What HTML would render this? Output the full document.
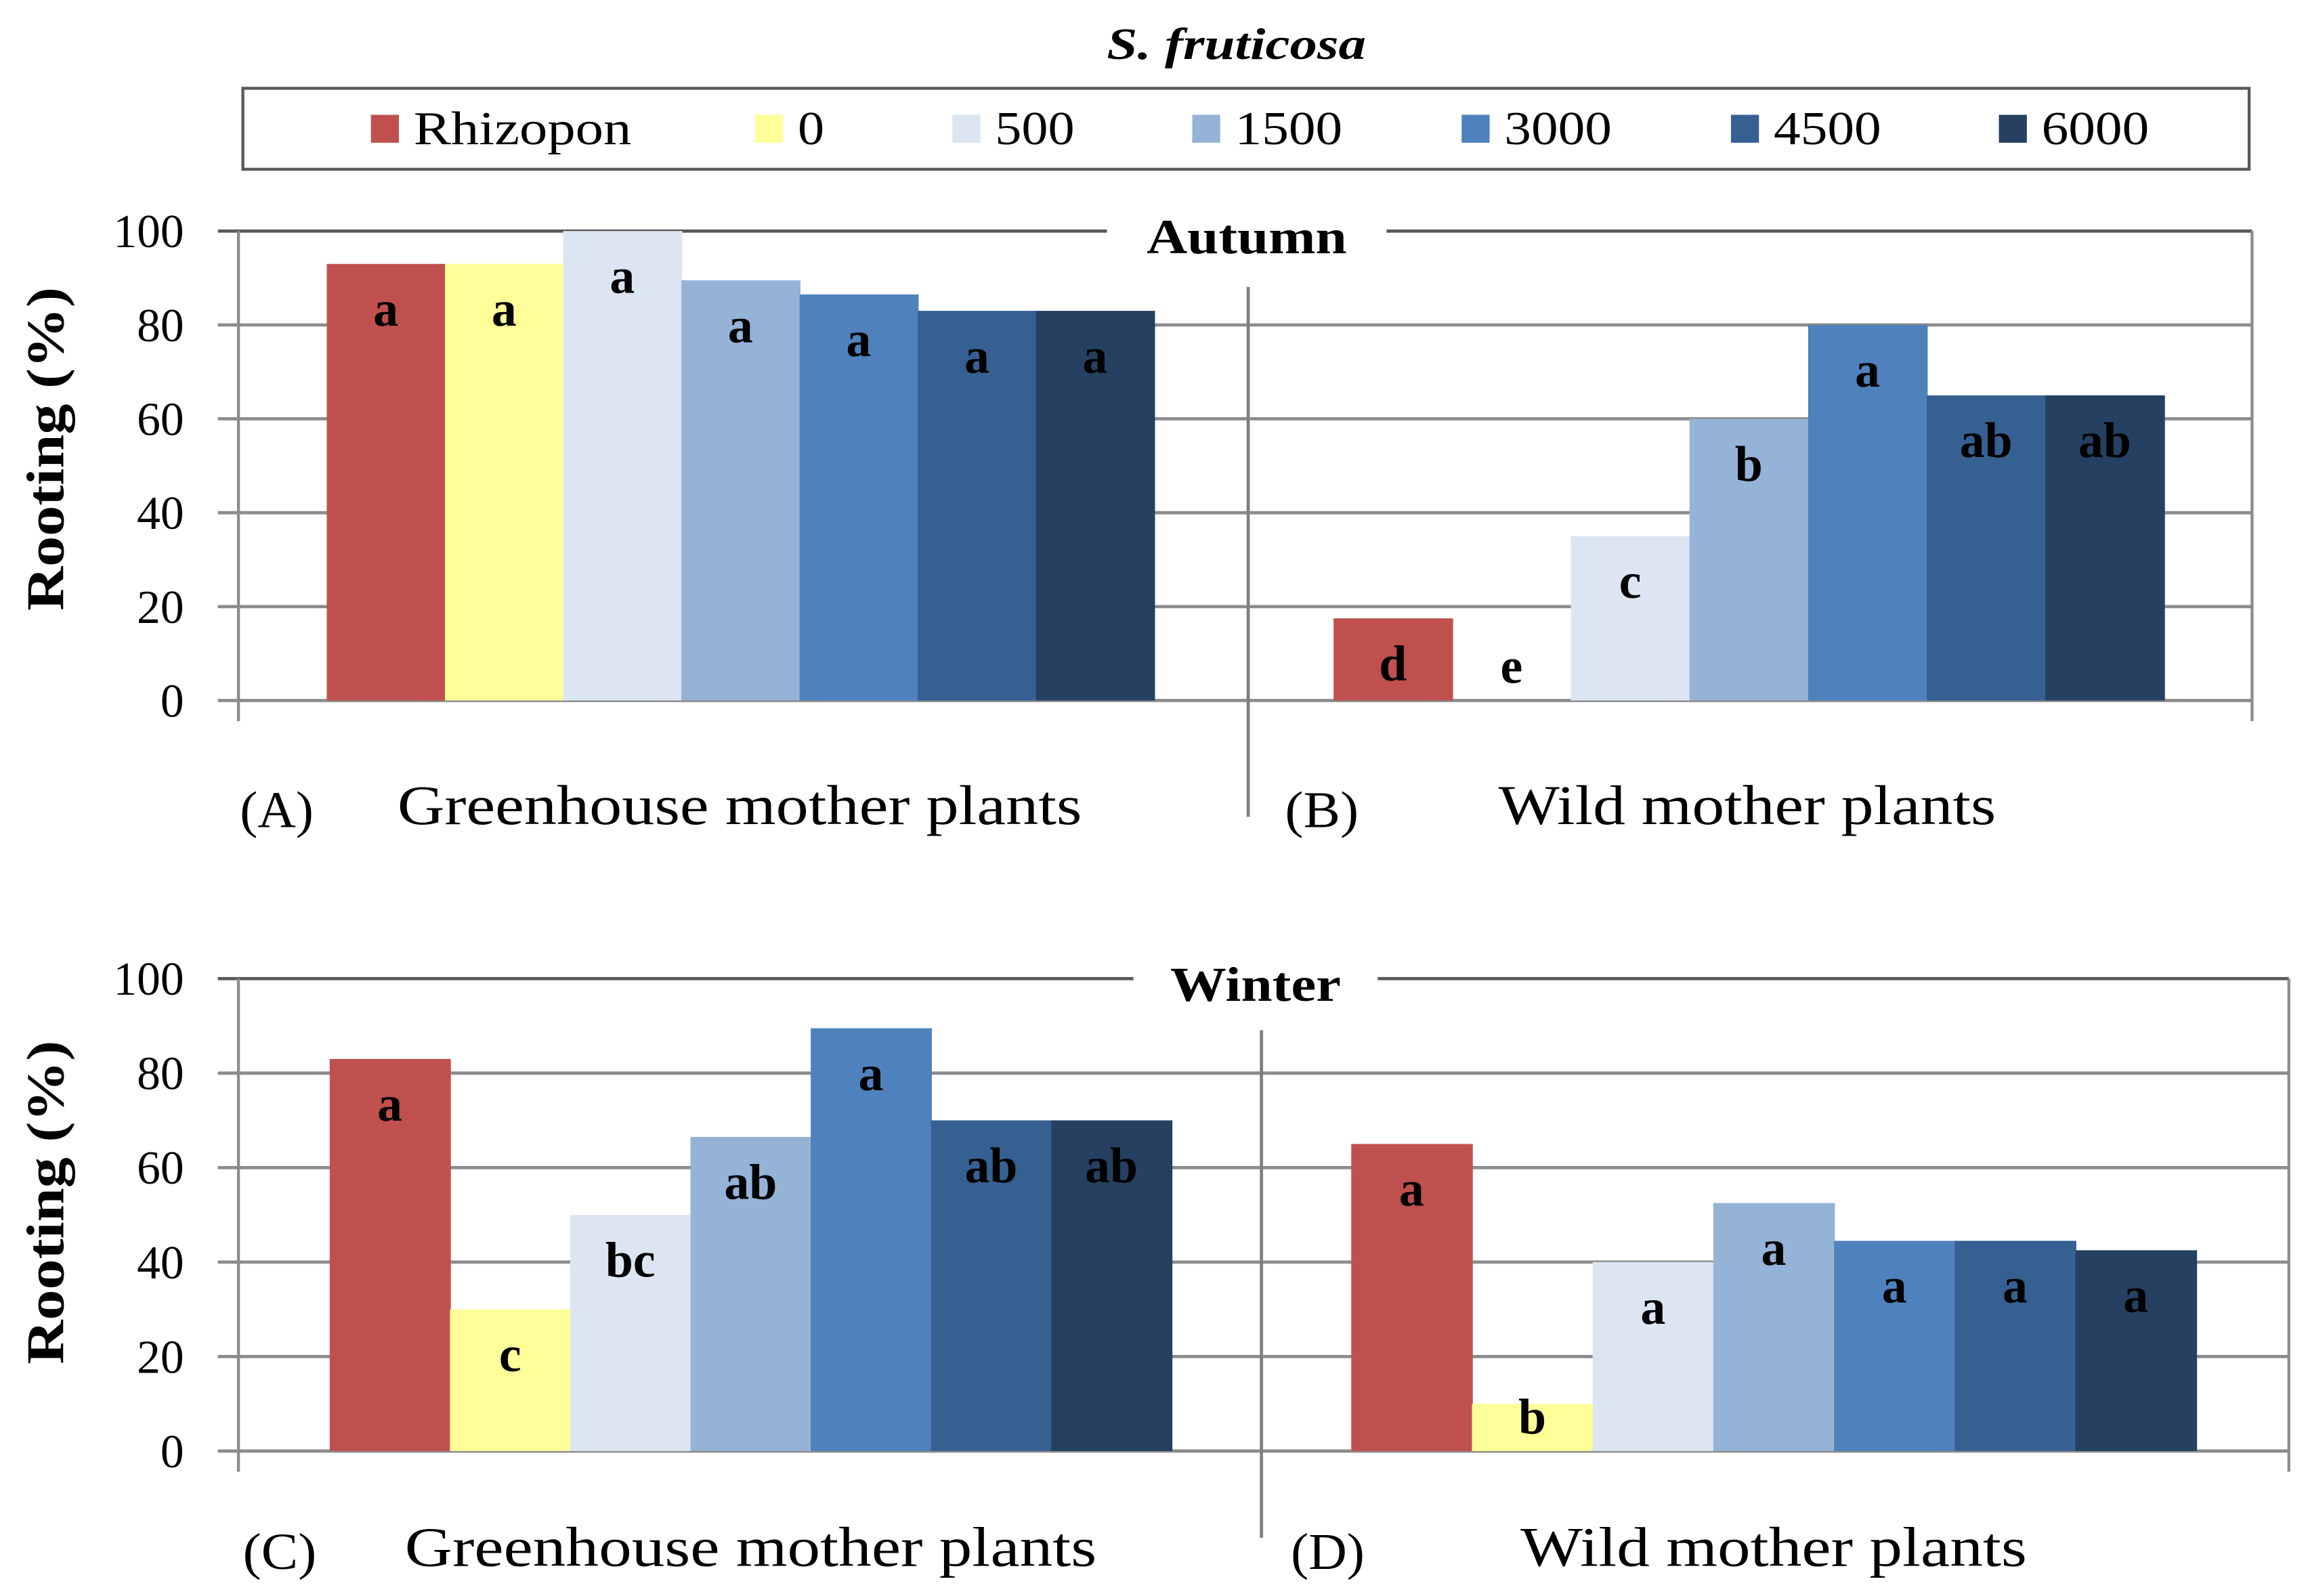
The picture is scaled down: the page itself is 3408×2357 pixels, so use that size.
<!DOCTYPE html>
<html><head><meta charset="utf-8">
<style>
html,body{margin:0;padding:0;background:#fff;}
svg{display:block;}
text{font-family:"Liberation Serif",serif;fill:#000;}
</style></head>
<body>
<svg id="chart" width="3408" height="2357" viewBox="0 0 1568 1084.5" preserveAspectRatio="none" xmlns="http://www.w3.org/2000/svg">
<text x="752" y="40" font-size="30" font-weight="bold" font-style="italic" textLength="176" lengthAdjust="spacingAndGlyphs">S. fruticosa</text>
<rect x="165" y="60" width="1363" height="55" fill="#fff" stroke="#595959" stroke-width="2"/>
<g id="legend"></g>
<g id="panels"></g>
</svg>
<script>
const series = ["Rhizopon","0","500","1500","3000","4500","6000"];
const colors = ["#C0504D","#FFFF99","#DCE6F2","#95B3D7","#4F81BD","#376092","#254061"];
const yTicks = [0,20,40,60,80,100];
const autumnGreenhouse = [93,93,100,89.5,86.5,83,83];
const autumnGreenhouseLetters = ["a","a","a","a","a","a","a"];
const autumnWild = [17.5,0,35,60,80,65,65];
const autumnWildLetters = ["d","e","c","b","a","ab","ab"];
const winterGreenhouse = [83,30,50,66.5,89.5,70,70];
const winterGreenhouseLetters = ["a","c","bc","ab","a","ab","ab"];
const winterWild = [65,10,40,52.5,44.5,44.5,42.5];
const winterWildLetters = ["a","b","a","a","a","a","a"];

const NS="http://www.w3.org/2000/svg";
function mk(tag,attrs,parent,txt){const e=document.createElementNS(NS,tag);for(const k in attrs)e.setAttribute(k,attrs[k]);if(txt!==undefined)e.textContent=txt;parent.appendChild(e);return e;}

const lg=document.getElementById('legend');
const legSq=[252,513,647,810,993,1176,1358];
const legW=[148,18,54,73,73,73,73];
series.forEach((s,i)=>{
  const g=mk('g',{},lg);
  
  
  const r=mk('rect',{x:legSq[i],y:78,width:19,height:19,fill:colors[i]},g);
  
  
  const t=mk('text',{x:legSq[i]+29,y:98,'font-size':32,textLength:legW[i],lengthAdjust:'spacingAndGlyphs'},g,s);
  
  
});

const panelsG=document.getElementById('panels');
function panel(cfg){
  const g=mk('g',{},panelsG);
  
  
  const y=v=>cfg.y0-(cfg.y0-cfg.y100)*v/100;
  yTicks.forEach(t=>{
    const l=mk('line',{x1:148,x2:cfg.xEnd,y1:y(t),y2:y(t),stroke:t===100?'#595959':'#8c8c8c','stroke-width':2.2},g);
    
    
    const tl=mk('text',{x:125,y:y(t)+11,'text-anchor':'end','font-size':32},g,String(t));
    
    
  });
  const ax=mk('line',{x1:162,x2:162,y1:cfg.y100,y2:cfg.y0+14,stroke:'#8c8c8c','stroke-width':2},g);
  
  
  const re=mk('line',{x1:cfg.xEnd,x2:cfg.xEnd,y1:cfg.y100,y2:cfg.y0+14,stroke:'#8c8c8c','stroke-width':2},g);
  
  
  const dv=mk('line',{x1:cfg.div,x2:cfg.div,y1:cfg.divTop,y2:cfg.divBot,stroke:'#7f7f7f','stroke-width':2.2},g);
  
  
  const bg=mk('rect',{x:cfg.seasonX-cfg.gap,y:cfg.y100-12,width:cfg.gap*2,height:24,fill:'#fff'},g);
  
  
  const st=mk('text',{x:cfg.seasonX-cfg.sw/2,y:cfg.y100+15,'font-size':33,'font-weight':'bold',textLength:cfg.sw,lengthAdjust:'spacingAndGlyphs'},g,cfg.season);
  
  
  const yt=mk('text',{x:-110,y:0,'font-size':36,'font-weight':'bold',textLength:220,lengthAdjust:'spacingAndGlyphs','transform':`translate(43,${cfg.yTitleC}) rotate(-90)`},g,'Rooting  (%)');
  
  
  cfg.groups.forEach(gr=>{
    const gg=mk('g',{},g);
    
    
    gr.vals.forEach((v,i)=>{
      const x=gr.x0+i*gr.w;
      const top=y(v);
      const b=mk('rect',{x:x,y:top,width:gr.w+0.6,height:cfg.y0-top,fill:colors[i]},gg);
      
      
      const ly=Math.min(top+42,cfg.y0-12);
      const lt=mk('text',{x:x+gr.w/2,y:ly,'text-anchor':'middle','font-size':34,'font-weight':'bold'},gg,gr.letters[i]);
      
      
    });
    const pl=mk('text',{x:gr.labX,y:cfg.labY,'font-size':35,textLength:50,lengthAdjust:'spacingAndGlyphs'},g,gr.tag);
    
    
    const pn=mk('text',{x:gr.nameX,y:cfg.labY-2,'font-size':38,textLength:gr.nameW,lengthAdjust:'spacingAndGlyphs'},g,gr.name);
    
    
  });
}
panel({name:'autumn-panel',y0:476,y100:157,xEnd:1530,div:848,divTop:195,divBot:555,season:'Autumn',seasonX:847,sw:136,gap:95,labY:562,yTitleC:305,
  groups:[
   {x0:222,w:80.3,vals:autumnGreenhouse,letters:autumnGreenhouseLetters,tag:'(A)',labX:163,name:'Greenhouse mother plants',nameX:270,nameW:465},
   {x0:906,w:80.6,vals:autumnWild,letters:autumnWildLetters,tag:'(B)',labX:873,name:'Wild mother plants',nameX:1018,nameW:338}]});
panel({name:'winter-panel',y0:986,y100:665,xEnd:1555,div:857,divTop:700,divBot:1045,season:'Winter',seasonX:853,sw:116,gap:83,labY:1066,yTitleC:817,
  groups:[
   {x0:224,w:81.7,vals:winterGreenhouse,letters:winterGreenhouseLetters,tag:'(C)',labX:165,name:'Greenhouse mother plants',nameX:275,nameW:470},
   {x0:918,w:82,vals:winterWild,letters:winterWildLetters,tag:'(D)',labX:877,name:'Wild mother plants',nameX:1033,nameW:344}]});
</script>
</body></html>
